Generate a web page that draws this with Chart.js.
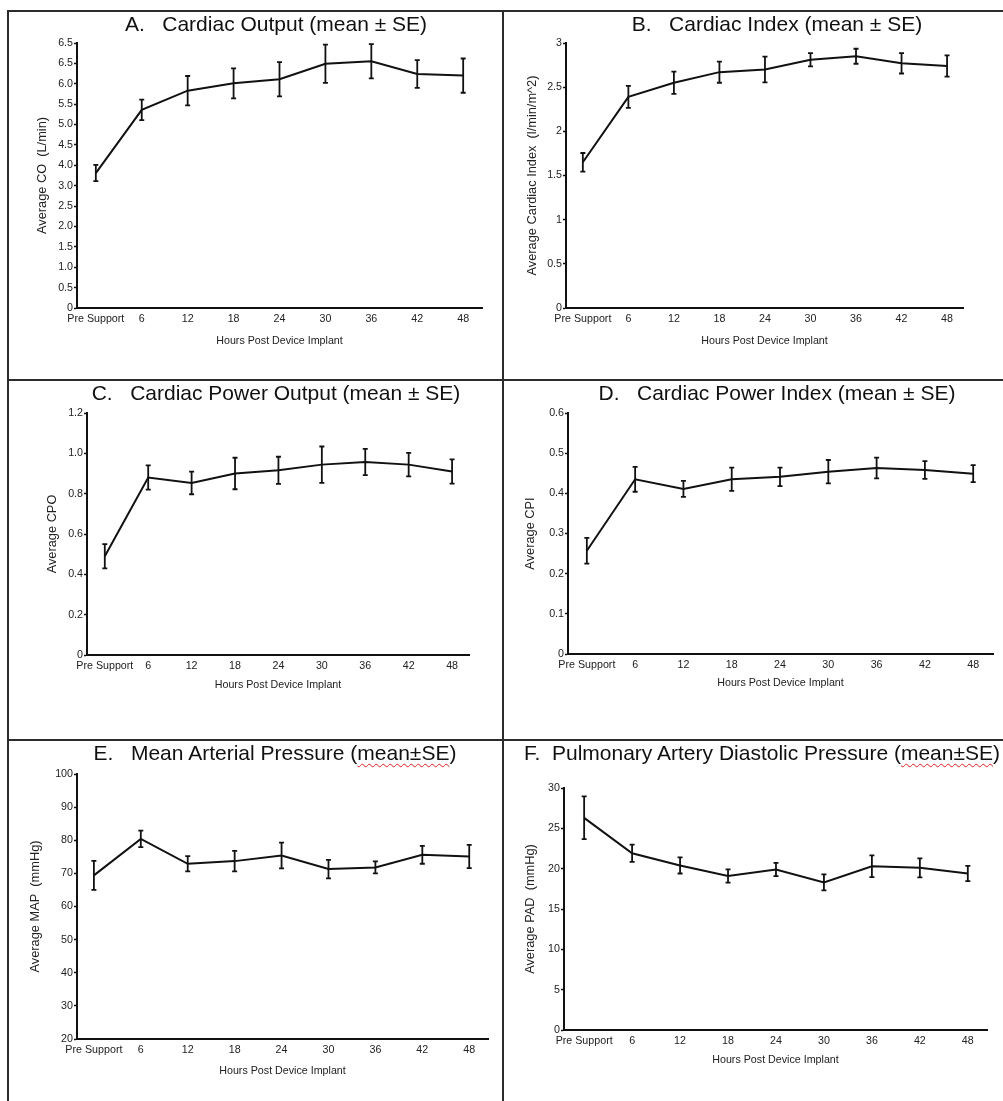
<!DOCTYPE html>
<html>
<head>
<meta charset="utf-8">
<script src="https://cdn.jsdelivr.net/npm/chart.js@4"></script>
<style>
  body { margin: 0; background: #fff; }
  #page { position: relative; width: 1003px; height: 1101px; overflow: hidden; font-family: "Liberation Sans", Arial, sans-serif; }
  .rule { position: absolute; background: #2b2b2b; }
  canvas { position: absolute; }
  .title { position: absolute; width: 500px; text-align: center; font-size: 21px; line-height: 21px; color: #111; white-space: pre; z-index: 2; }
  .spell { text-decoration: underline wavy #e02020; text-decoration-thickness: 1px; text-underline-offset: 3px; }
</style>
</head>
<body>
<div id="page">
  <div class="rule" style="left:7px; top:10px; width:996px; height:2px"></div>
  <div class="rule" style="left:7px; top:10px; width:2px; height:1091px"></div>
  <div class="rule" style="left:502px; top:10px; width:2px; height:1091px"></div>
  <div class="rule" style="left:7px; top:379px; width:996px; height:2px"></div>
  <div class="rule" style="left:7px; top:739px; width:996px; height:2px"></div>

  <div class="title" style="left:26px; top:13px">A.   Cardiac Output (mean ± SE)</div>
  <div class="title" style="left:527px; top:13px">B.   Cardiac Index (mean ± SE)</div>
  <div class="title" style="left:26px; top:382px">C.   Cardiac Power Output (mean ± SE)</div>
  <div class="title" style="left:527px; top:382px">D.   Cardiac Power Index (mean ± SE)</div>
  <div class="title" style="left:25px; top:742px">E.   Mean Arterial Pressure (<span class="spell">mean±SE</span>)</div>
  <div class="title" style="left:512px; top:742px">F.  Pulmonary Artery Diastolic Pressure (<span class="spell">mean±SE</span>)</div>
</div>
<script>
// time points on the x axis
var hours = ['Pre Support', '6', '12', '18', '24', '30', '36', '42', '48'];

// A. cardiac output - plotted on the axis as printed (14 ticks, 0.5 apart, labels as in the figure)
var coMean = [3.31, 4.86, 5.33, 5.51, 5.61, 5.99, 6.05, 5.74, 5.70];
var coSE = [0.20, 0.25, 0.36, 0.37, 0.42, 0.47, 0.42, 0.34, 0.42];
var coTicks = [0, 0.5, 1, 1.5, 2, 2.5, 3, 3.5, 4, 4.5, 5, 5.5, 6, 6.5];
var coTickLabels = ['0', '0.5', '1.0', '1.5', '2.0', '2.5', '3.0', '4.0', '4.5', '5.0', '5.5', '6.0', '6.5', '6.5'];

// B. cardiac index
var ciMean = [1.65, 2.39, 2.55, 2.67, 2.70, 2.81, 2.85, 2.77, 2.74];
var ciSE = [0.105, 0.125, 0.125, 0.12, 0.145, 0.075, 0.085, 0.115, 0.12];
var ciTicks = [0, 0.5, 1, 1.5, 2, 2.5, 3];
var ciTickLabels = ['0', '0.5', '1', '1.5', '2', '2.5', '3'];

// C. cardiac power output
var cpoMean = [0.49, 0.88, 0.853, 0.90, 0.916, 0.944, 0.957, 0.944, 0.91];
var cpoSE = [0.06, 0.06, 0.056, 0.078, 0.067, 0.09, 0.065, 0.058, 0.06];
var cpoTicks = [0, 0.2, 0.4, 0.6, 0.8, 1.0, 1.2];
var cpoTickLabels = ['0', '0.2', '0.4', '0.6', '0.8', '1.0', '1.2'];

// D. cardiac power index
var cpiMean = [0.257, 0.435, 0.411, 0.435, 0.441, 0.454, 0.463, 0.458, 0.449];
var cpiSE = [0.032, 0.031, 0.02, 0.029, 0.023, 0.029, 0.026, 0.022, 0.021];
var cpiTicks = [0, 0.1, 0.2, 0.3, 0.4, 0.5, 0.6];
var cpiTickLabels = ['0', '0.1', '0.2', '0.3', '0.4', '0.5', '0.6'];

// E. mean arterial pressure
var mapMean = [69.4, 80.4, 72.9, 73.7, 75.4, 71.3, 71.8, 75.6, 75.1];
var mapSE = [4.4, 2.5, 2.3, 3.1, 3.9, 2.8, 1.8, 2.7, 3.5];
var mapTicks = [20, 30, 40, 50, 60, 70, 80, 90, 100];
var mapTickLabels = ['20', '30', '40', '50', '60', '70', '80', '90', '100'];

// F. pulmonary artery diastolic pressure
var padMean = [26.3, 21.9, 20.4, 19.1, 19.9, 18.3, 20.3, 20.1, 19.4];
var padSE = [2.65, 1.07, 1.0, 0.82, 0.83, 1.0, 1.35, 1.18, 0.95];
var padTicks = [0, 5, 10, 15, 20, 25, 30];
var padTickLabels = ['0', '5', '10', '15', '20', '25', '30'];

Chart.defaults.font.family = '"Liberation Sans", Arial, sans-serif';

function errorBars(mean, se) {
  return {
    id: 'errorBars',
    afterDatasetsDraw: function(chart) {
      var ctx = chart.ctx, x = chart.scales.x, y = chart.scales.y;
      ctx.save();
      ctx.strokeStyle = '#111';
      ctx.lineWidth = 1.8;
      mean.forEach(function(m, i) {
        var px = x.getPixelForValue(i);
        var hi = y.getPixelForValue(m + se[i]);
        var lo = y.getPixelForValue(m - se[i]);
        ctx.beginPath();
        ctx.moveTo(px, hi); ctx.lineTo(px, lo);
        ctx.moveTo(px - 2.5, hi); ctx.lineTo(px + 2.5, hi);
        ctx.moveTo(px - 2.5, lo); ctx.lineTo(px + 2.5, lo);
        ctx.stroke();
      });
      ctx.restore();
    }
  };
}

// cell = canvas box, plot = wanted chart area (page px)
function panel(cell, plot, mean, se, yTicks, yLabels, yTitle) {
  var canvas = document.createElement('canvas');
  canvas.width = cell.w;
  canvas.height = cell.h;
  canvas.style.left = cell.l + 'px';
  canvas.style.top = cell.t + 'px';
  document.getElementById('page').appendChild(canvas);

  var small = 10.7, ySize = 12.8;
  new Chart(canvas, {
    type: 'line',
    data: {
      datasets: [{
        data: mean.map(function(m, i) { return {x: i, y: m}; }),
        borderColor: '#111',
        borderWidth: 2,
        pointRadius: 0,
        tension: 0,
        fill: false
      }]
    },
    options: {
      responsive: false,
      animation: false,
      devicePixelRatio: 1,
      layout: { padding: { top: plot.yTop - cell.t, right: cell.l + cell.w - plot.x1, bottom: 0, left: 0 } },
      plugins: { legend: { display: false }, tooltip: { enabled: false } },
      scales: {
        x: {
          type: 'linear',
          min: plot.xMin,
          max: plot.xMax,
          afterBuildTicks: function(s) { s.ticks = hours.map(function(h, i) { return {value: i}; }); },
          afterFit: function(s) { s.height = cell.t + cell.h - plot.yBot; },
          grid: { drawOnChartArea: false, drawTicks: false },
          border: { color: '#111', width: 2 },
          ticks: {
            autoSkip: false, maxRotation: 0, minRotation: 0, padding: 5,
            color: '#222', font: { size: small },
            callback: function(v) { return hours[v]; }
          },
          title: {
            display: true, text: 'Hours Post Device Implant', color: '#222',
            font: { size: small },
            padding: { top: 0, bottom: cell.t + cell.h - plot.xTitleY - small * 0.6 }
          }
        },
        y: {
          type: 'linear',
          min: yTicks[0],
          max: yTicks[yTicks.length - 1],
          afterBuildTicks: function(s) { s.ticks = yTicks.map(function(v) { return {value: v}; }); },
          afterFit: function(s) { s.width = plot.x0 - cell.l; },
          grid: { drawOnChartArea: false, drawTicks: true, tickLength: 3, tickColor: '#111', tickWidth: 1.5 },
          border: { color: '#111', width: 2 },
          ticks: {
            padding: 1, color: '#222', font: { size: small },
            callback: function(v, i) { return yLabels[i]; }
          },
          title: {
            display: true, text: yTitle, color: '#222',
            font: { size: ySize },
            padding: { top: plot.yTitleX - cell.l - ySize * 0.6, bottom: 0 }
          }
        }
      }
    },
    plugins: [errorBars(mean, se)]
  });
}

window.onload = function() {
  panel({l: 9, t: 12, w: 493, h: 367},
        {x0: 77, x1: 482, yTop: 43, yBot: 308, xMin: -0.41, xMax: 8.41, yTitleX: 42, xTitleY: 341},
        coMean, coSE, coTicks, coTickLabels, 'Average CO  (L/min)');
  panel({l: 504, t: 12, w: 499, h: 367},
        {x0: 566, x1: 963, yTop: 43, yBot: 308, xMin: -0.37, xMax: 8.35, yTitleX: 532, xTitleY: 341},
        ciMean, ciSE, ciTicks, ciTickLabels, 'Average Cardiac Index  (l/min/m^2)');
  panel({l: 9, t: 381, w: 493, h: 358},
        {x0: 87, x1: 469, yTop: 413, yBot: 655, xMin: -0.41, xMax: 8.39, yTitleX: 52, xTitleY: 685},
        cpoMean, cpoSE, cpoTicks, cpoTickLabels, 'Average CPO');
  panel({l: 504, t: 381, w: 499, h: 358},
        {x0: 568, x1: 993, yTop: 413, yBot: 654, xMin: -0.39, xMax: 8.41, yTitleX: 530, xTitleY: 683},
        cpiMean, cpiSE, cpiTicks, cpiTickLabels, 'Average CPI');
  panel({l: 9, t: 741, w: 493, h: 360},
        {x0: 77, x1: 488, yTop: 774, yBot: 1039, xMin: -0.36, xMax: 8.40, yTitleX: 35, xTitleY: 1071},
        mapMean, mapSE, mapTicks, mapTickLabels, 'Average MAP  (mmHg)');
  panel({l: 504, t: 741, w: 499, h: 360},
        {x0: 564, x1: 987, yTop: 788, yBot: 1030, xMin: -0.42, xMax: 8.40, yTitleX: 530, xTitleY: 1060},
        padMean, padSE, padTicks, padTickLabels, 'Average PAD  (mmHg)');
};
</script>
</body>
</html>
